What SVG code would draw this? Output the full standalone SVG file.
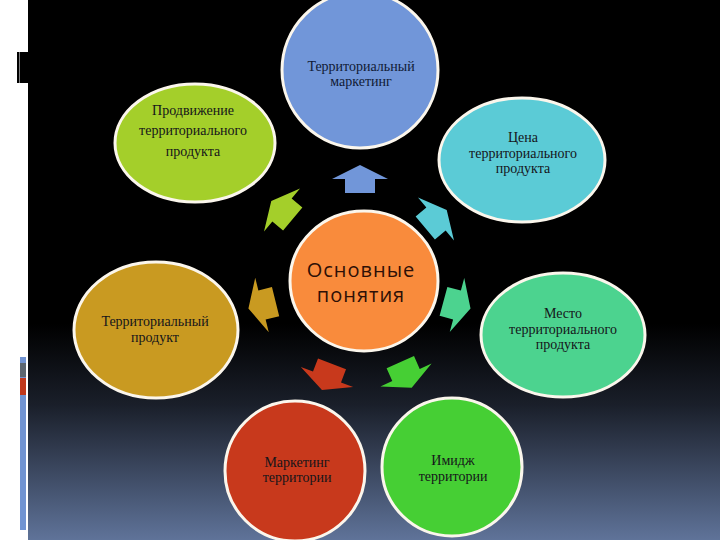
<svg xmlns="http://www.w3.org/2000/svg" xmlns:xlink="http://www.w3.org/1999/xlink" width="720" height="540" viewBox="0 0 720 540">
<defs>
<linearGradient id="bg" x1="0" y1="0" x2="0" y2="1">
<stop offset="0" stop-color="#000"/>
<stop offset="0.6" stop-color="#000"/>
<stop offset="0.75" stop-color="#1a1f2a"/>
<stop offset="1" stop-color="#5f7399"/>
</linearGradient>
<polygon id="arr" points="-15,14 -15,0 -28,0 0,-14 28,0 15,0 15,14"/>
</defs>
<style>
.n{stroke:#fbf6ec;stroke-width:3}
.t{font-family:"Liberation Serif","Times New Roman",serif;font-size:14px;fill:#15151a;text-anchor:middle}
.c{font-family:"Open Sans","DejaVu Sans",sans-serif;font-size:20px;fill:#2e1006;text-anchor:middle;letter-spacing:1px}
</style>
<rect x="0" y="0" width="720" height="540" fill="#fff"/>
<rect x="28" y="0" width="692" height="540" fill="url(#bg)"/>
<rect x="17" y="52" width="2" height="31" fill="#000"/>
<rect x="19.5" y="52" width="8.5" height="31" fill="#000"/>
<rect x="20" y="357" width="6" height="173" fill="#7093d2"/>
<rect x="20" y="363" width="6" height="14" fill="#5c6670"/>
<rect x="20" y="378" width="6" height="17" fill="#c0381c"/>
<g id="connectors">
<use xlink:href="#arr" fill="#7196d9" transform="translate(360,179)"/>
<use xlink:href="#arr" fill="#a4cf2a" transform="translate(282,210) rotate(-50)"/>
<use xlink:href="#arr" fill="#5bcbd6" transform="translate(436,219) rotate(50)"/>
<use xlink:href="#arr" fill="#c99a21" transform="translate(262,305) rotate(-104)"/>
<use xlink:href="#arr" fill="#4cd38f" transform="translate(457,305) rotate(105)"/>
<use xlink:href="#arr" fill="#c8391c" transform="translate(327,377) rotate(-159)"/>
<use xlink:href="#arr" fill="#46cf34" transform="translate(406,375) rotate(156)"/>
</g>
<g id="center">
<ellipse class="n" cx="364" cy="281" rx="74" ry="70" fill="#f98b3c"/>
<text class="c" x="361" y="277">Основные</text>
<text class="c" x="361" y="302">понятия</text>
</g>
<g id="n-marketing">
<ellipse class="n" cx="360" cy="70" rx="78" ry="78" fill="#7196d9"/>
<text class="t" x="361" y="71" style="fill:#101a35">Территориальный</text>
<text class="t" x="361" y="86" style="fill:#101a35">маркетинг</text>
</g>
<g id="n-promo">
<ellipse class="n" cx="195" cy="143" rx="80" ry="59" fill="#a4cf2a"/>
<text class="t" x="193" y="115">Продвижение</text>
<text class="t" x="193" y="135">территориального</text>
<text class="t" x="193" y="156">продукта</text>
</g>
<g id="n-price">
<ellipse class="n" cx="522" cy="160" rx="83" ry="62" fill="#5bcbd6"/>
<text class="t" x="523" y="142">Цена</text>
<text class="t" x="523" y="158">территориального</text>
<text class="t" x="523" y="173">продукта</text>
</g>
<g id="n-product">
<ellipse class="n" cx="156" cy="330" rx="82" ry="68" fill="#c99a21"/>
<text class="t" x="155" y="326">Территориальный</text>
<text class="t" x="155" y="342">продукт</text>
</g>
<g id="n-place">
<ellipse class="n" cx="563" cy="335" rx="82" ry="62" fill="#4cd38f"/>
<text class="t" x="563" y="318">Место</text>
<text class="t" x="563" y="334">территориального</text>
<text class="t" x="563" y="349">продукта</text>
</g>
<g id="n-terr-marketing">
<ellipse class="n" cx="295" cy="471" rx="70" ry="70" fill="#c8391c"/>
<text class="t" x="297" y="467">Маркетинг</text>
<text class="t" x="297" y="482">территории</text>
</g>
<g id="n-image">
<ellipse class="n" cx="452" cy="467" rx="70" ry="69" fill="#46cf34"/>
<text class="t" x="453" y="465">Имидж</text>
<text class="t" x="453" y="481">территории</text>
</g>
</svg>
